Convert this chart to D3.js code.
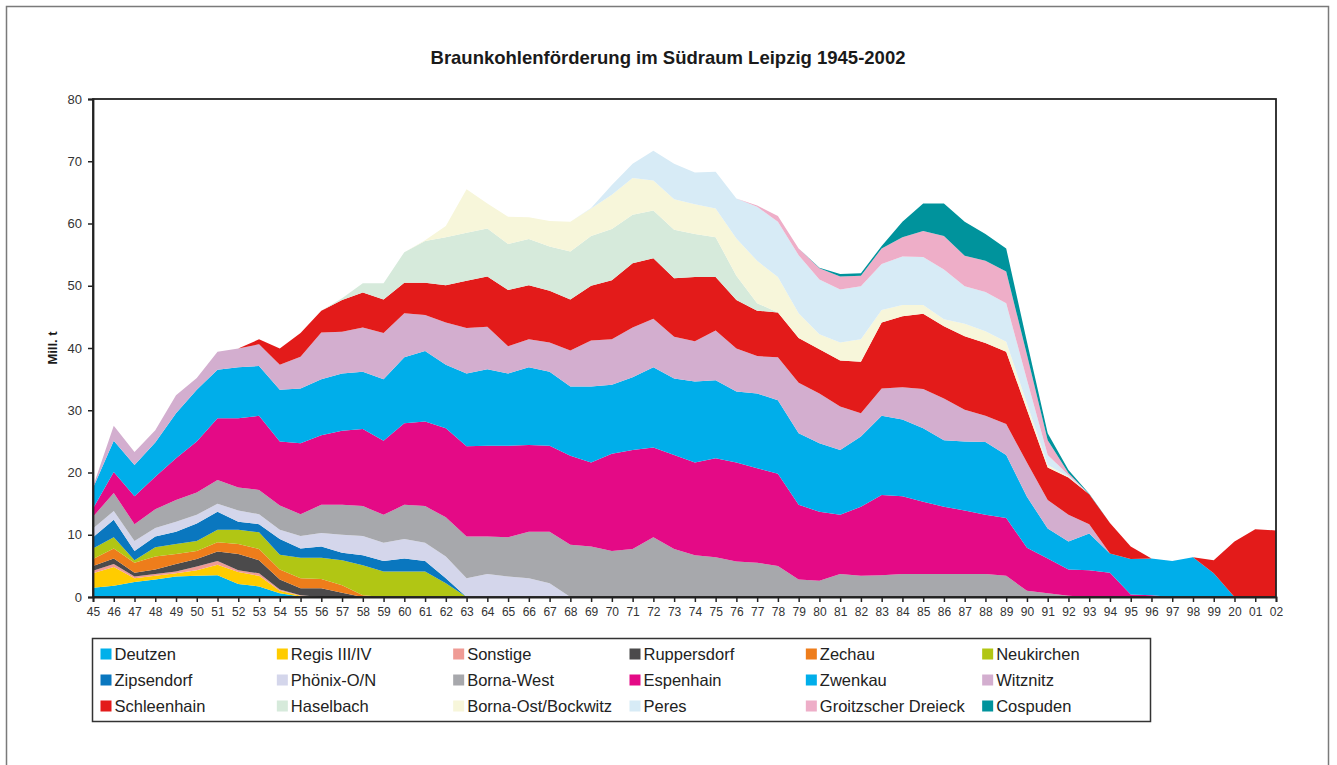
<!DOCTYPE html>
<html>
<head>
    <meta charset="utf-8">
    <title>Braunkohlenförderung im Südraum Leipzig 1945-2002</title>
    <script src="https://d3js.org/d3.v7.min.js"></script>
    <style>
        body { margin: 0; background: #fff; }
        svg { font-family: 'Liberation Sans', Arial, sans-serif; }
        .axis text { fill: #333; }
        .axis path, .axis line { stroke: #222; }
        .legend text { font-size: 16.5px; fill: #222; }
    </style>
</head>
<body>
    <script>
        // years 1945..2002, labels as printed on the original (2000 is printed "20")
        var years = d3.range(1945, 2003);
        var xLabels = ["45","46","47","48","49","50","51","52","53","54",
                       "55","56","57","58","59","60","61","62","63","64",
                       "65","66","67","68","69","70","71","72","73","74",
                       "75","76","77","78","79","80","81","82","83","84",
                       "85","86","87","88","89","90","91","92","93","94",
                       "95","96","97","98","99","20","01","02"];
        var yTicks = [0, 10, 20, 30, 40, 50, 60, 70, 80];

        // Mill. t per year, one row = 10 years (45-54, 55-64, ... 95-02)
        var deutzen = [1.5,1.8,2.4,2.8,3.3,3.4,3.5,2.1,1.7,0.6,
                       0.1,0,0,0,0,0,0,0,0,0,
                       0,0,0,0,0,0,0,0,0,0,
                       0,0,0,0,0,0,0,0,0,0,
                       0,0,0,0,0,0,0,0,0,0,
                       0,0,0,0,0,0,0,0];
        var regis = [2.3,3.0,0.6,0.6,0.5,0.9,1.7,1.9,1.7,0.4,
                     0.1,0,0,0,0,0,0,0,0,0,
                     0,0,0,0,0,0,0,0,0,0,
                     0,0,0,0,0,0,0,0,0,0,
                     0,0,0,0,0,0,0,0,0,0,
                     0,0,0,0,0,0,0,0];
        var sonstige = [0.4,0.5,0.3,0.3,0.3,0.6,0.6,0.3,0.4,0.2,
                        0.1,0,0,0,0,0,0,0,0,0,
                        0,0,0,0,0,0,0,0,0,0,
                        0,0,0,0,0,0,0,0,0,0,
                        0,0,0,0,0,0,0,0,0,0,
                        0,0,0,0,0,0,0,0];
        var ruppersdorf = [0.8,0.9,0.6,0.7,1.2,1.2,1.5,2.6,2.1,1.6,
                           1.1,1.4,0.7,0,0,0,0,0,0,0,
                           0,0,0,0,0,0,0,0,0,0,
                           0,0,0,0,0,0,0,0,0,0,
                           0,0,0,0,0,0,0,0,0,0,
                           0,0,0,0,0,0,0,0];
        var zechau = [1.1,1.6,1.6,2.1,1.6,1.3,1.5,1.6,1.8,1.6,
                      1.6,1.5,1.2,0.3,0,0,0,0,0,0,
                      0,0,0,0,0,0,0,0,0,0,
                      0,0,0,0,0,0,0,0,0,0,
                      0,0,0,0,0,0,0,0,0,0,
                      0,0,0,0,0,0,0,0];
        var neukirchen = [1.7,1.8,0.4,1.5,1.6,1.6,2.0,2.3,2.7,2.4,
                          3.3,3.4,4.0,4.8,4.1,4.1,4.1,2.2,0,0,
                          0,0,0,0,0,0,0,0,0,0,
                          0,0,0,0,0,0,0,0,0,0,
                          0,0,0,0,0,0,0,0,0,0,
                          0,0,0,0,0,0,0,0];
        var zipsendorf = [1.8,2.8,1.5,1.7,2.0,2.8,2.9,1.3,1.3,2.5,
                          1.5,1.8,1.2,1.6,1.7,2.1,1.7,0.8,0,0,
                          0,0,0,0,0,0,0,0,0,0,
                          0,0,0,0,0,0,0,0,0,0,
                          0,0,0,0,0,0,0,0,0,0,
                          0,0,0,0,0,0,0,0];
        var phoenix = [1.4,1.4,1.6,1.4,1.6,1.4,1.3,1.8,1.6,1.5,
                       2.0,2.2,2.9,3.1,2.9,3.1,2.9,3.5,3.0,3.7,
                       3.3,3.0,2.2,0,0,0,0,0,0,0,
                       0,0,0,0,0,0,0,0,0,0,
                       0,0,0,0,0,0,0,0,0,0,
                       0,0,0,0,0,0,0,0];
        var bornaWest = [1.9,2.9,2.7,3.0,3.5,3.6,3.8,3.7,3.9,3.9,
                         3.5,4.5,4.8,4.8,4.5,5.5,5.9,6.3,6.7,6.0,
                         6.3,7.5,8.3,8.4,8.1,7.4,7.7,9.6,7.7,6.7,
                         6.4,5.7,5.5,5.0,2.8,2.6,3.7,3.4,3.5,3.7,
                         3.7,3.7,3.7,3.7,3.4,1.0,0.6,0.2,0,0,
                         0,0,0,0,0,0,0,0];
        var espenhain = [1.3,3.4,4.5,5.2,6.7,8.2,9.9,11.1,11.9,10.3,
                         11.4,11.2,11.9,12.4,11.9,13.1,13.6,14.3,14.5,14.6,
                         14.7,13.9,13.8,14.3,13.5,15.6,15.9,14.4,15.1,14.9,
                         15.9,15.9,15.2,14.8,12.0,11.1,9.5,11.1,12.9,12.5,
                         11.6,10.8,10.2,9.5,9.3,6.9,5.6,4.2,4.3,3.9,
                         0.4,0.3,0,0,0,0,0,0];
        var zwenkau = [3.3,5.0,5.0,5.5,7.2,8.3,7.8,8.2,8.0,8.3,
                       8.8,9.0,9.2,9.2,9.9,10.6,11.3,10.2,11.7,12.3,
                       11.6,12.5,11.9,11.1,12.2,11.1,11.7,12.9,12.3,13.0,
                       12.5,11.4,12.0,11.8,11.5,11.0,10.4,11.3,12.7,12.3,
                       11.8,10.7,11.1,11.7,10.1,8.2,4.8,4.5,5.9,3.1,
                       5.7,5.9,5.8,6.4,3.8,0,0,0];
        var witznitz = [0.2,2.4,2.1,2.0,2.9,1.9,2.9,3.0,3.5,4.0,
                        5.1,7.5,6.7,7.1,7.4,7.1,5.8,6.8,7.3,6.8,
                        4.4,4.5,4.7,5.8,7.4,7.3,8.0,7.8,6.7,6.5,
                        8.0,6.9,6.0,6.9,8.1,8.0,7.0,3.7,4.4,5.2,
                        6.3,6.7,5.1,4.2,5.0,5.5,4.6,4.3,1.5,0,
                        0,0,0,0,0,0,0,0];
        var schleenhain = [0,0,0,0,0,0,0,0,0.8,2.6,
                           3.8,3.5,5.1,5.6,5.4,4.9,5.2,6.0,7.6,8.1,
                           9.0,8.7,8.3,8.2,8.8,9.5,10.3,9.7,9.4,10.3,
                           8.6,7.8,7.3,7.2,7.2,7.1,7.4,8.3,10.6,11.4,
                           12.1,11.6,11.8,11.7,11.6,8.5,5.2,6.0,4.8,4.9,
                           2.0,0,0,0,2.1,8.9,10.9,10.7];
        var haselbach = [0,0,0,0,0,0,0,0,0,0,
                         0,0,0.3,1.5,2.6,4.9,6.7,7.7,7.7,7.7,
                         7.4,7.4,7.1,7.7,8.0,8.2,7.8,7.7,7.8,6.9,
                         6.4,3.9,1.2,0,0,0,0,0,0,0,
                         0,0,0,0,0,0,0,0,0,0,
                         0,0,0,0,0,0,0,0];
        var bornaOst = [0,0,0,0,0,0,0,0,0,0,
                        0,0,0,0,0,0,0.1,1.8,7.0,4.0,
                        4.4,3.5,4.1,4.8,4.4,5.5,5.9,4.8,4.9,4.8,
                        4.6,6.0,6.8,5.7,4.0,2.4,2.9,3.6,2.0,1.8,
                        1.4,1.1,2.0,1.9,1.6,1.0,0.4,0.1,0,0,
                        0,0,0,0,0,0,0,0];
        var peres = [0,0,0,0,0,0,0,0,0,0,
                     0,0,0,0,0,0,0,0,0,0,
                     0,0,0,0,0.1,1.6,2.3,4.8,5.7,5.1,
                     5.9,6.4,8.7,8.9,9.3,8.8,8.5,8.5,7.4,7.8,
                     7.7,8.0,6.0,6.3,6.2,3.8,1.6,0.3,0,0,
                     0,0,0,0,0,0,0,0];
        var groitzsch = [0,0,0,0,0,0,0,0,0,0,
                         0,0,0,0,0,0,0,0,0,0,
                         0,0,0,0,0,0,0,0,0,0,
                         0,0,0.2,0.9,1.1,1.8,2.1,1.7,2.5,3.1,
                         4.2,5.4,4.9,5.0,5.1,4.0,2.4,0.3,0,0,
                         0,0,0,0,0,0,0,0];
        var cospuden = [0,0,0,0,0,0,0,0,0,0,
                        0,0,0,0,0,0,0,0,0,0,
                        0,0,0,0,0,0,0,0,0,0,
                        0,0,0,0,0,0.1,0.4,0.4,0.4,2.5,
                        4.4,5.2,5.5,4.3,3.7,2.1,1.1,0.5,0.1,0,
                        0,0,0,0,0,0,0,0];

        // stacking order bottom -> top (same as legend order)
        var seriesNames = ["Deutzen","Regis III/IV","Sonstige","Ruppersdorf","Zechau","Neukirchen",
                           "Zipsendorf","Phönix-O/N","Borna-West","Espenhain","Zwenkau","Witznitz",
                           "Schleenhain","Haselbach","Borna-Ost/Bockwitz","Peres","Groitzscher Dreieck","Cospuden"];
        var seriesValues = [deutzen, regis, sonstige, ruppersdorf, zechau, neukirchen,
                            zipsendorf, phoenix, bornaWest, espenhain, zwenkau, witznitz,
                            schleenhain, haselbach, bornaOst, peres, groitzsch, cospuden];
        var seriesColors = ["#00b0ea","#ffcc00","#ef9b95","#4b4a4b","#ee7d1b","#b1c614",
                            "#0a77bf","#d4d6eb","#a7a8ac","#e40a86","#00aeea","#d3aecf",
                            "#e31b1a","#d6eadb","#f7f6da","#d7ebf6","#eeaec8","#00939c"];

        var W = 1337, H = 765;
        var margin = {left: 93, top: 99, right: 61, bottom: 168};
        var innerW = W - margin.left - margin.right,
            innerH = H - margin.top - margin.bottom;

        var svg = d3.select("body").append("svg")
            .attr("width", W)
            .attr("height", H);

        // outer frame (runs past the bottom edge like in the scan)
        svg.append("rect")
            .attr("x", 6.5).attr("y", 6.5)
            .attr("width", 1322).attr("height", 800)
            .attr("fill", "none")
            .attr("stroke", "#7a7a7a")
            .attr("stroke-width", 1.5);

        svg.append("text")
            .attr("x", 668).attr("y", 64)
            .attr("text-anchor", "middle")
            .style("font-size", "18.5px")
            .style("font-weight", "bold")
            .style("fill", "#1a1a1a")
            .text("Braunkohlenförderung im Südraum Leipzig 1945-2002");

        var x = d3.scaleLinear()
            .domain([1945, 2002])
            .range([margin.left, margin.left + innerW]);

        var y = d3.scaleLinear()
            .domain([0, 80])
            .range([margin.top + innerH, margin.top]);

        var table = years.map(function(yr, i) {
            var row = {year: yr};
            seriesNames.forEach(function(name, k) { row[name] = seriesValues[k][i]; });
            return row;
        });

        var stacked = d3.stack().keys(seriesNames)(table);

        var area = d3.area()
            .x(function(d) { return x(d.data.year); })
            .y0(function(d) { return y(d[0]); })
            .y1(function(d) { return y(d[1]); });

        svg.append("g")
            .attr("class", "layers")
            .selectAll("path")
            .data(stacked)
            .enter().append("path")
            .attr("fill", function(d, i) { return seriesColors[i]; })
            .attr("d", area);

        // plot frame
        svg.append("rect")
            .attr("x", margin.left).attr("y", margin.top)
            .attr("width", innerW).attr("height", innerH)
            .attr("fill", "none")
            .attr("stroke", "#222")
            .attr("stroke-width", 1.8);

        var yAxis = svg.append("g")
            .attr("class", "axis")
            .attr("transform", "translate(" + margin.left + ",0)")
            .call(d3.axisLeft(y).tickValues(yTicks).tickSize(5).tickPadding(6));
        yAxis.select(".domain").attr("stroke-width", 1.8);
        yAxis.selectAll("line").attr("stroke-width", 1.5);
        yAxis.selectAll("text").style("font-size", "13px");

        var xAxis = svg.append("g")
            .attr("class", "axis")
            .attr("transform", "translate(0," + (margin.top + innerH) + ")")
            .call(d3.axisBottom(x)
                .tickValues(years)
                .tickFormat(function(d, i) { return xLabels[i]; })
                .tickSize(5)
                .tickPadding(5));
        xAxis.select(".domain").attr("stroke-width", 1.8);
        xAxis.selectAll("line").attr("stroke-width", 1.5);
        xAxis.selectAll("text").style("font-size", "12px");

        svg.append("text")
            .attr("transform", "translate(57," + (margin.top + innerH / 2) + ") rotate(-90)")
            .attr("text-anchor", "middle")
            .style("font-size", "13px")
            .style("font-weight", "bold")
            .style("fill", "#1a1a1a")
            .text("Mill. t");

        // legend: 3 rows x 6 columns
        var legendX = 92.5, legendY = 638.5, legendW = 1058, legendH = 83;
        var legend = svg.append("g").attr("class", "legend");
        legend.append("rect")
            .attr("x", legendX).attr("y", legendY)
            .attr("width", legendW).attr("height", legendH)
            .attr("fill", "none")
            .attr("stroke", "#333")
            .attr("stroke-width", 1.5);

        var colW = legendW / 6;
        var item = legend.selectAll("g.item")
            .data(seriesNames)
            .enter().append("g")
            .attr("class", "item")
            .attr("transform", function(d, i) {
                var col = i % 6, row = Math.floor(i / 6);
                return "translate(" + (legendX + col * colW) + "," + (654 + row * 26) + ")";
            });

        item.append("rect")
            .attr("x", 8).attr("y", -5.5)
            .attr("width", 11).attr("height", 11)
            .attr("fill", function(d, i) { return seriesColors[i]; });

        item.append("text")
            .attr("x", 22).attr("y", 6)
            .text(function(d) { return d; });
    </script>
</body>
</html>
